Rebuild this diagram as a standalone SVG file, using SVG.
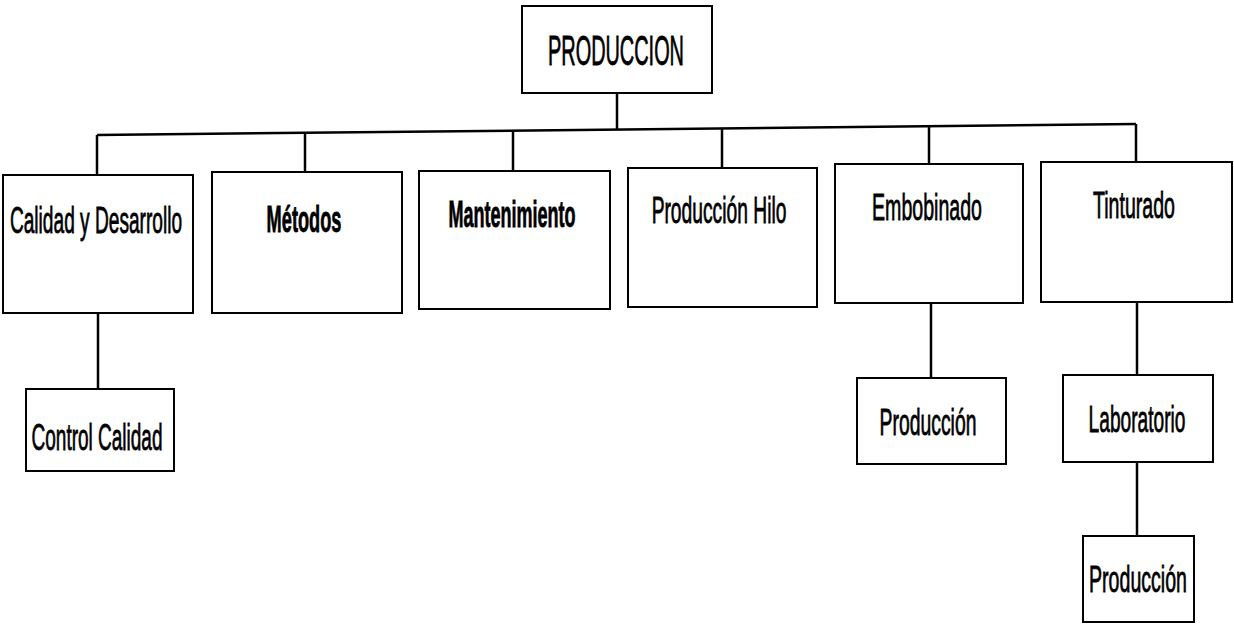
<svg xmlns="http://www.w3.org/2000/svg" width="1234" height="626" viewBox="0 0 1234 626">
<style>
.box{fill:#fff;stroke:#000;stroke-width:2}
.lbl{font-family:"Liberation Sans",Arial,sans-serif;font-size:37px;fill:#000;stroke:#000;stroke-width:0.8;text-anchor:middle}
.b{font-weight:bold}
#connectors line{stroke:#000;stroke-width:2.5;fill:none}
</style>
<rect width="1234" height="626" fill="#fff"/>
<g id="connectors">
<line x1="617" y1="93" x2="617" y2="130"/>
<line x1="97" y1="135" x2="1136" y2="124"/>
<line x1="97" y1="135" x2="97" y2="175"/>
<line x1="305" y1="133" x2="305" y2="172"/>
<line x1="513" y1="131" x2="513" y2="171"/>
<line x1="722" y1="128" x2="722" y2="168"/>
<line x1="929" y1="126" x2="929" y2="164"/>
<line x1="1136" y1="124" x2="1136" y2="162"/>
<line x1="98" y1="313" x2="98" y2="389"/>
<line x1="931" y1="303" x2="931" y2="378"/>
<line x1="1137" y1="302" x2="1137" y2="375"/>
<line x1="1137" y1="462" x2="1137" y2="536"/>
</g>
<g id="n-produccion"><rect class="box" x="522" y="6" width="190" height="87"/><text class="lbl" transform="translate(616,65) scale(0.5,1)" textLength="272" lengthAdjust="spacingAndGlyphs" style="font-size:42px">PRODUCCION</text></g>
<g id="n-calidad"><rect class="box" x="3" y="175" width="190" height="138"/><text class="lbl" transform="translate(96,233) scale(0.55,1)" textLength="313" lengthAdjust="spacingAndGlyphs">Calidad y Desarrollo</text></g>
<g id="n-metodos"><rect class="box" x="212" y="172" width="190" height="141"/><text class="lbl b" transform="translate(304,232) scale(0.55,1)" textLength="136" lengthAdjust="spacingAndGlyphs">Métodos</text></g>
<g id="n-mantenimiento"><rect class="box" x="419" y="171" width="191" height="138"/><text class="lbl b" transform="translate(512,227) scale(0.55,1)" textLength="231" lengthAdjust="spacingAndGlyphs">Mantenimiento</text></g>
<g id="n-hilo"><rect class="box" x="628" y="168" width="189" height="139"/><text class="lbl" transform="translate(719,223) scale(0.55,1)" textLength="245" lengthAdjust="spacingAndGlyphs">Producción Hilo</text></g>
<g id="n-embobinado"><rect class="box" x="835" y="164" width="188" height="139"/><text class="lbl" transform="translate(927,220) scale(0.55,1)" textLength="200" lengthAdjust="spacingAndGlyphs">Embobinado</text></g>
<g id="n-tinturado"><rect class="box" x="1041" y="162" width="191" height="140"/><text class="lbl" transform="translate(1134,218) scale(0.55,1)" textLength="149" lengthAdjust="spacingAndGlyphs">Tinturado</text></g>
<g id="n-control"><rect class="box" x="26" y="389" width="148" height="82"/><text class="lbl" transform="translate(97,450) scale(0.55,1)" textLength="238" lengthAdjust="spacingAndGlyphs">Control Calidad</text></g>
<g id="n-prod1"><rect class="box" x="857" y="378" width="149" height="86"/><text class="lbl" transform="translate(928,435) scale(0.55,1)" textLength="176" lengthAdjust="spacingAndGlyphs">Producción</text></g>
<g id="n-laboratorio"><rect class="box" x="1063" y="375" width="150" height="87"/><text class="lbl" transform="translate(1137,432) scale(0.55,1)" textLength="176" lengthAdjust="spacingAndGlyphs">Laboratorio</text></g>
<g id="n-prod2"><rect class="box" x="1083" y="536" width="111" height="86"/><text class="lbl" transform="translate(1138,592) scale(0.55,1)" textLength="178" lengthAdjust="spacingAndGlyphs">Producción</text></g>
</svg>
